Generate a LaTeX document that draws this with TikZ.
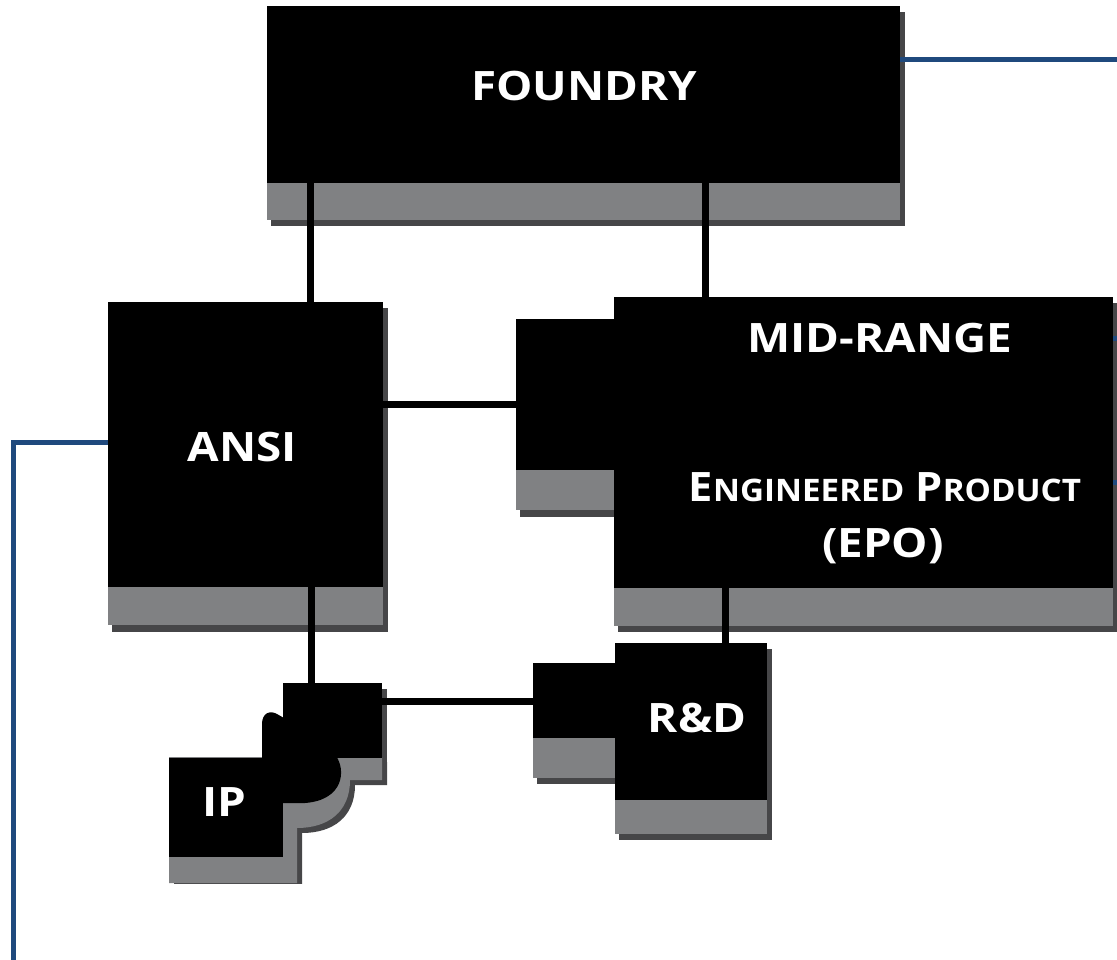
\documentclass[tikz,border=0pt]{standalone}
\usepackage{fontspec}
\setmainfont{Open Sans}
\newfontfamily\widefont[FakeStretch=1.13]{Open Sans}
\newfontfamily\midfont[FakeStretch=1.07]{Open Sans}
\definecolor{boxgray}{RGB}{128,129,131}
\definecolor{shadowgray}{RGB}{70,70,72}
\definecolor{linkblue}{RGB}{31,73,125}
\tikzset{
  blk/.style={fill=black, draw=none, inner sep=0pt, outer sep=0pt, anchor=north west},
  gry/.style={fill=boxgray},
  shd/.style={fill=shadowgray},
  conn/.style={line width=7pt, black},
  blueline/.style={line width=5pt, linkblue},
  lbl/.style={text=white, inner sep=0pt, align=center, font=\widefont\bfseries\fontsize{40.5}{46}\selectfont},
}
\begin{document}
\begin{tikzpicture}[x=1pt,y=-1pt]
\useasboundingbox (0,0) rectangle (1117,960);
% ---- shadows ----
\fill[shd] (271,12) rectangle (905,226);   % foundry
\fill[shd] (112,308) rectangle (388,632);  % ansi
\fill[shd] (520,325) rectangle (619,517);  % mid small
\fill[shd] (618,303) rectangle (1118,632); % mid big
\fill[shd] (537,669) rectangle (620,784);  % r&d small
\fill[shd] (619,649) rectangle (772,840);  % r&d big
\fill[shd] (287,689) rectangle (387,763);  % ip top
\begin{scope}
  \clip (0,0) rectangle (1117,883);
  \fill[shd, shift={(5,5)}] (283,757) -- (382,757) -- (382,780) -- (350,780)
     .. controls (350,812) and (328,828) .. (297,828) -- (297,883) -- (169,883) -- (169,757) -- cycle;
\end{scope}
% ---- gray bands ----
\fill[gry] (267,182) rectangle (900,220);
\fill[gry] (108,586) rectangle (383,625);
\fill[gry] (516,469) rectangle (614,510);
\fill[gry] (614,587) rectangle (1113,626);
\fill[gry] (533,737) rectangle (615,778);
\fill[gry] (615,799) rectangle (767,834);
\fill[gry] (283,757) -- (382,757) -- (382,780) -- (350,780)
   .. controls (350,812) and (328,828) .. (297,828) -- (297,883) -- (169,883) -- (169,757) -- cycle;
% ---- black boxes ----
\node[blk, minimum width=633pt, minimum height=177pt] (foundry) at (267,6) {};
\node[blk, minimum width=275pt, minimum height=285pt] (ansi) at (108,302) {};
\node[blk, minimum width=98pt, minimum height=151pt] (midsmall) at (516,319) {};
\node[blk, minimum width=499pt, minimum height=291pt] (mid) at (614,297) {};
\node[blk, minimum width=82pt, minimum height=75pt] (rdsmall) at (533,663) {};
\node[blk, minimum width=152pt, minimum height=157pt] (rd) at (615,643) {};
\node[blk, minimum width=99pt, minimum height=75pt] (iptop) at (283,683) {};
\node[blk, minimum width=114pt, minimum height=99pt] (ip) at (169,758) {};
% ip connector blob
\fill[black] (262,760) -- (262,724) .. controls (262,713) and (270,710) .. (277,714) -- (284,718) -- (284,760) -- cycle;
\fill[black] (282,756) -- (336,756) .. controls (346,770) and (344,800) .. (305,803) -- (282,803) -- cycle;
% ---- labels ----
\node[lbl] (tfoundry) at (584,86) {FOUNDRY};
\node[lbl] (tansi) at (242,447) {ANSI};
\node[lbl] (tmid) at (880,338) {MID-RANGE};
\node[lbl, font=\midfont\bfseries\fontsize{40.5}{46}\selectfont] (tepo) at (885,487) {E{\fontsize{31}{36}\selectfont NGINEERED} P{\fontsize{31}{36}\selectfont RODUCT}};
\node[lbl] (tepo2) at (883,546) {(EPO)};
\node[lbl] (trd) at (697,718) {R\&D};
\node[lbl] (tip) at (224,802) {IP};
% ---- connectors ----
\coordinate (c1) at (310,182);
\coordinate (c2) at (705,182);
\coordinate (c3) at (383,404);
\coordinate (c4) at (311,586);
\coordinate (c5) at (382,701);
\coordinate (c6) at (725,587);
\draw[conn] (c1) -- (c1 |- ansi.north);
\draw[conn] (c2) -- (c2 |- mid.north);
\draw[conn] (c3) -- (c3 -| midsmall.west);
\draw[conn] (c4) -- (c4 |- iptop.north);
\draw[conn] (c5) -- (c5 -| rdsmall.west);
\draw[conn] (c6) -- (c6 |- rd.north);
% ---- blue links ----
\coordinate (b1) at (1117,60);
\coordinate (b2) at (13.5,962);
\coordinate (b3) at (1117,338);
\coordinate (b4) at (1117,482);
\draw[blueline] (b1 -| foundry.east) -- (b1);
\draw[blueline] ([yshift=2.5pt]ansi.west) -| (b2);
\draw[blueline] (b3 -| mid.east) -- (b3);
\draw[blueline] (b4 -| mid.east) -- (b4);
\end{tikzpicture}
\end{document}
